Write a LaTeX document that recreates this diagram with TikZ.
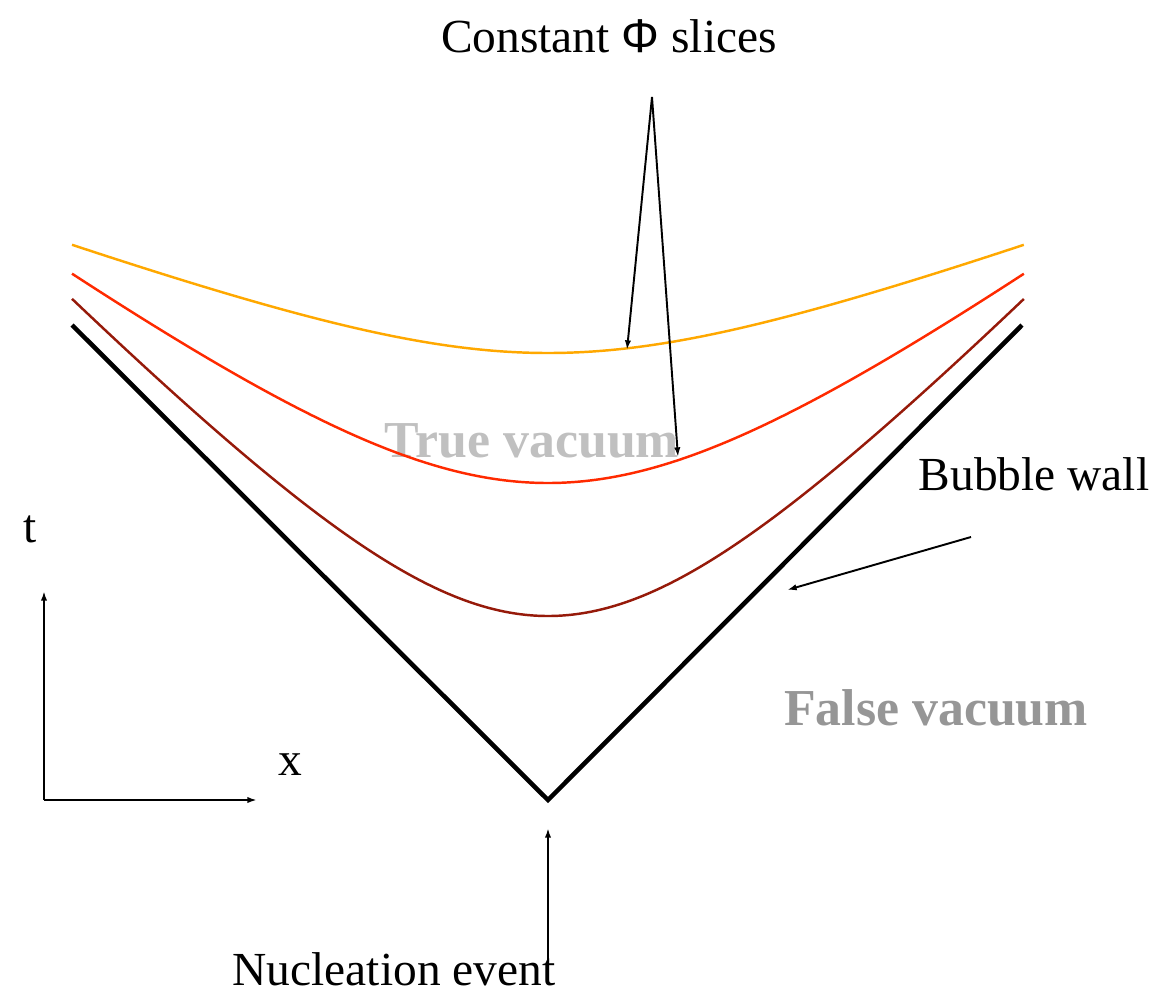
\documentclass[tikz,border=0pt]{standalone}
\usepackage{fontspec}
\setmainfont{Liberation Serif}
\newfontfamily\phifont{Liberation Sans}
\usepackage{tikz}
\usetikzlibrary{arrows.meta}
\definecolor{sliceorange}{RGB}{255,168,0}
\definecolor{slicered}{RGB}{255,42,0}
\definecolor{slicebrown}{RGB}{150,26,10}
\definecolor{truegray}{RGB}{192,192,192}
\definecolor{falsegray}{RGB}{150,150,150}

\begin{document}
\begin{tikzpicture}[x=0.02cm, y=-0.02cm,
    every node/.style={inner sep=0pt, anchor=base},
    lbl/.style={font=\fontsize{27}{32}\selectfont},
    vac/.style={font=\fontsize{29.5}{34}\selectfont\bfseries},
    pointer/.style={-{Latex[length=5.5pt,width=3.6pt]}, line width=1.1pt},
    slice/.style={line width=1.4pt, smooth, samples=120, domain=-4.76:4.76},
    wall/.style={line width=2.6pt}]
    \useasboundingbox (0,0) rectangle (1161,992);

    % Texts
    \node[lbl] (slices) at (609,52) {Constant {\phifont Φ} slices};
    \node[lbl] (bubble) at (1034,490) {Bubble wall};
    \node[lbl] (nucl) at (394,985) {Nucleation event};
    \node[lbl] (tlab) at (30,542) {t};
    \node[lbl] (xlab) at (290,775) {x};
    \node[vac, text=truegray] (truevac) at (532,457) {True vacuum};
    \node[vac, text=falsegray] (falsevac) at (936,725) {False vacuum};

    % Points
    \coordinate (nuc) at (548,800);
    \coordinate (wallL) at (72,325);
    \coordinate (wallR) at (1022,325);
    \coordinate (slicetip) at (652,97);
    \coordinate (hitO) at (627,350);
    \coordinate (hitR) at (678,457);
    \coordinate (bwtail) at (971,537);
    \coordinate (bwhead) at (787,590);
    \coordinate (nuctail) at (548,960);
    \coordinate (nuchead) at (548,828);
    \coordinate (origin) at (44,800);
    \coordinate (tend) at (44,591);
    \coordinate (xend) at (257,800);

    % Constant field slices
    \draw[slice, sliceorange] plot ({548+100*\x}, {353-37*(sqrt(\x*\x+2.41*2.41)-2.41)});
    \draw[slice, slicered] plot ({548+100*\x}, {483-74*(sqrt(\x*\x+2.59*2.59)-2.59)});
    \draw[slice, slicebrown] plot ({548+100*\x}, {616-105*(sqrt(\x*\x+2.24*2.24)-2.24)});

    % Bubble wall
    \draw[wall] (wallL) -- (nuc) -- (wallR);

    % Arrows
    \draw[pointer] (slicetip) -- (hitO);
    \draw[pointer] (slicetip) -- (hitR);
    \draw[pointer] (bwtail) -- (bwhead);
    \draw[pointer] (nuctail) -- (nuchead);
    \draw[pointer] (origin) -- (tend);
    \draw[pointer] (origin) -- (xend);
\end{tikzpicture}
\end{document}
